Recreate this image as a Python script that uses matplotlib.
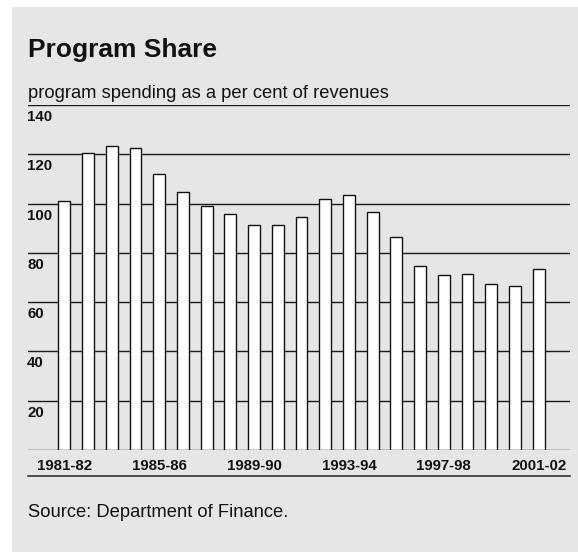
import matplotlib
matplotlib.use("Agg")
import matplotlib.pyplot as plt
from matplotlib.patches import Rectangle
from matplotlib.lines import Line2D

plt.rcParams['font.family'] = ['Liberation Sans', 'DejaVu Sans']

years = ["1981-82", "1982-83", "1983-84", "1984-85", "1985-86", "1986-87", "1987-88",
         "1988-89", "1989-90", "1990-91", "1991-92", "1992-93", "1993-94", "1994-95",
         "1995-96", "1996-97", "1997-98", "1998-99", "1999-00", "2000-01", "2001-02"]
values = [101.1, 120.4, 123.2, 122.6, 112.1, 104.8, 99.0, 95.9, 91.4, 91.3, 94.6,
          101.9, 103.6, 96.4, 86.3, 74.6, 71.1, 71.5, 67.5, 66.7, 73.3]
shown_labels = ["1981-82", "1985-86", "1989-90", "1993-94", "1997-98", "2001-02"]
y_ticks = [20, 40, 60, 80, 100, 120, 140]

W, H = 578, 552
fig = plt.figure(figsize=(W / 100, H / 100), dpi=100, facecolor='white')

def fx(px):
    return px / W

def fy(py):
    return 1 - py / H

# grey panel
fig.patches.append(Rectangle((fx(12), 0), fx(566), 1 - 7 / H, transform=fig.transFigure,
                             facecolor='#e6e6e6', edgecolor='none', zorder=-10))

ax = fig.add_axes([fx(28), fy(450), fx(570) - fx(28), fy(105) - fy(450)])
ax.set_zorder(5)
ax.set_facecolor('none')
ax.set_xlim(-1.53, 21.32)
ax.set_ylim(0, 140)

for v in [0] + y_ticks:
    ax.axhline(v, color='#1a1a1a', lw=1.0, zorder=1)

x = list(range(len(years)))
ax.bar(x, values, width=0.5, color='white', edgecolor='#111111', linewidth=1.0, zorder=2)

for s in ax.spines.values():
    s.set_visible(False)
ax.set_xticks([])
ax.set_yticks([])

for v in y_ticks:
    ax.annotate(str(v), xy=(0, v), xycoords=('axes fraction', 'data'),
                xytext=(-1, -16), textcoords='offset pixels',
                ha='left', va='baseline', fontsize=10.8, fontweight='bold', color='#111111')

for lab in shown_labels:
    i = years.index(lab)
    ax.annotate(lab, xy=(i, 0), xycoords='data', xytext=(0, -19.5), textcoords='offset pixels',
                ha='center', va='baseline', fontsize=10.8, fontweight='bold', color='#111111',
                annotation_clip=False)

# bottom rule
fig.add_artist(Line2D([fx(28), fx(570)], [fy(476), fy(476)], transform=fig.transFigure,
                      color='#333333', lw=1.2))

fig.text(fx(28), fy(56.7), "Program Share", fontsize=19, fontweight='bold',
         ha='left', va='baseline', color='#111111')
fig.text(fx(28), fy(98.5), "program spending as a per cent of revenues", fontsize=13.2,
         ha='left', va='baseline', color='#111111')
fig.text(fx(28), fy(517), "Source: Department of Finance.", fontsize=13.2,
         ha='left', va='baseline', color='#111111')

fig.savefig("out.png", dpi=100, facecolor='white')
